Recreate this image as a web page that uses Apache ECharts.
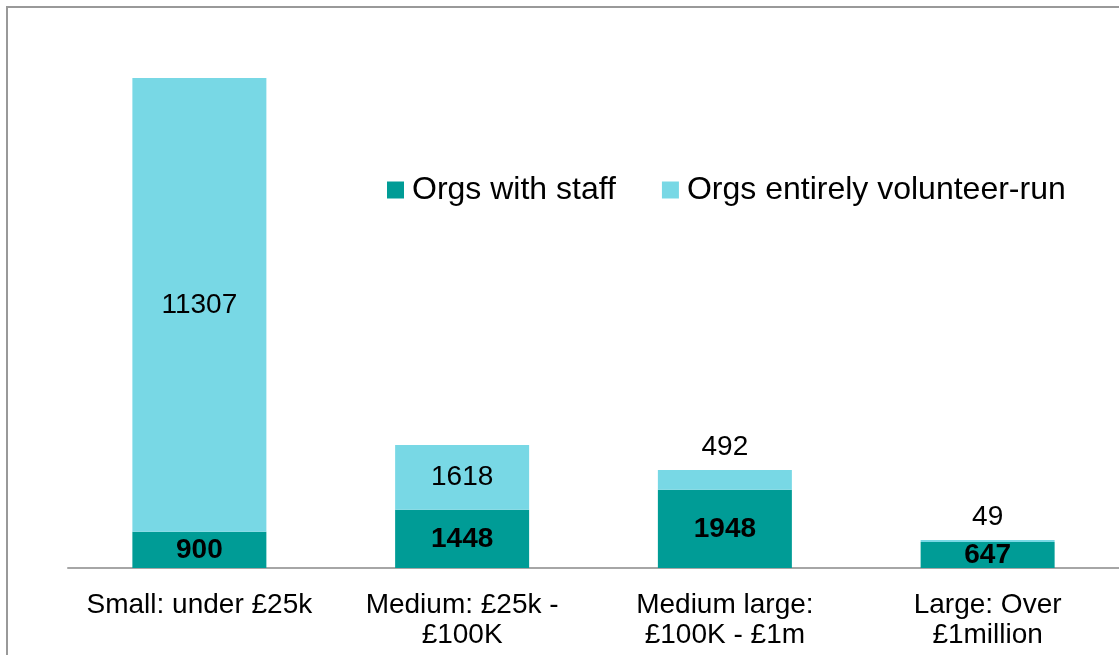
<!DOCTYPE html>
<html>
<head>
<meta charset="utf-8">
<script src="https://cdn.jsdelivr.net/npm/echarts@6/dist/echarts.min.js"></script>
<style>
  html, body { margin: 0; padding: 0; background: #fff; }
  #chart { width: 1119px; height: 655px; }
</style>
</head>
<body>
<div id="chart"></div>
<script>
// organisations by income band
const categories = ['Small: under £25k', 'Medium: £25k -\n£100K', 'Medium large:\n£100K - £1m', 'Large: Over\n£1million']
const withStaff = [900, 1448, 1948, 647]
const volunteerRun = [11307, 1618, 492, 49]

const font = '"Liberation Sans", Arial, sans-serif'
const myChart = echarts.init(document.getElementById('chart'))

const option = {
  animation: false,
  textStyle: { fontFamily: font },
  graphic: [
    {
      type: 'rect',
      shape: { x: 7, y: 7, width: 1200, height: 700 },
      style: { fill: 'none', stroke: '#999', lineWidth: 2 },
      silent: true
    }
  ],
  legend: {
    left: 387,
    top: 171,
    padding: 0,
    itemWidth: 17,
    itemHeight: 17,
    itemGap: 46,
    icon: 'rect',
    textStyle: { fontSize: 32, color: '#000', fontFamily: font, padding: [0, 0, 0, 3], lineHeight: 38 },
    data: ['Orgs with staff', 'Orgs entirely volunteer-run']
  },
  grid: { left: 68, right: -1, top: 6, bottom: 87 },
  xAxis: {
    type: 'category',
    data: categories,
    axisLine: { lineStyle: { color: '#a6a6a6', width: 2 } },
    axisTick: { show: false },
    axisLabel: { fontSize: 28, color: '#000', lineHeight: 30, margin: 22, interval: 0, fontFamily: font }
  },
  yAxis: {
    type: 'value',
    min: 0,
    max: 14000,
    show: false,
    splitLine: { show: false }
  },
  series: [
    {
      name: 'Orgs with staff',
      type: 'bar',
      stack: 'total',
      barWidth: 134,
      data: withStaff,
      itemStyle: { color: '#009c96' },
      label: { show: true, position: 'inside', fontSize: 28, fontWeight: 'bold', color: '#000', fontFamily: font }
    },
    {
      name: 'Orgs entirely volunteer-run',
      type: 'bar',
      stack: 'total',
      barWidth: 134,
      // small segments get their label above the bar
      data: volunteerRun.map(v => ({ value: v, label: { position: v < 1000 ? 'top' : 'inside' } })),
      itemStyle: { color: '#78d8e5' },
      label: { show: true, fontSize: 28, color: '#000', distance: 9, fontFamily: font }
    }
  ]
}

myChart.setOption(option)
</script>
</body>
</html>
